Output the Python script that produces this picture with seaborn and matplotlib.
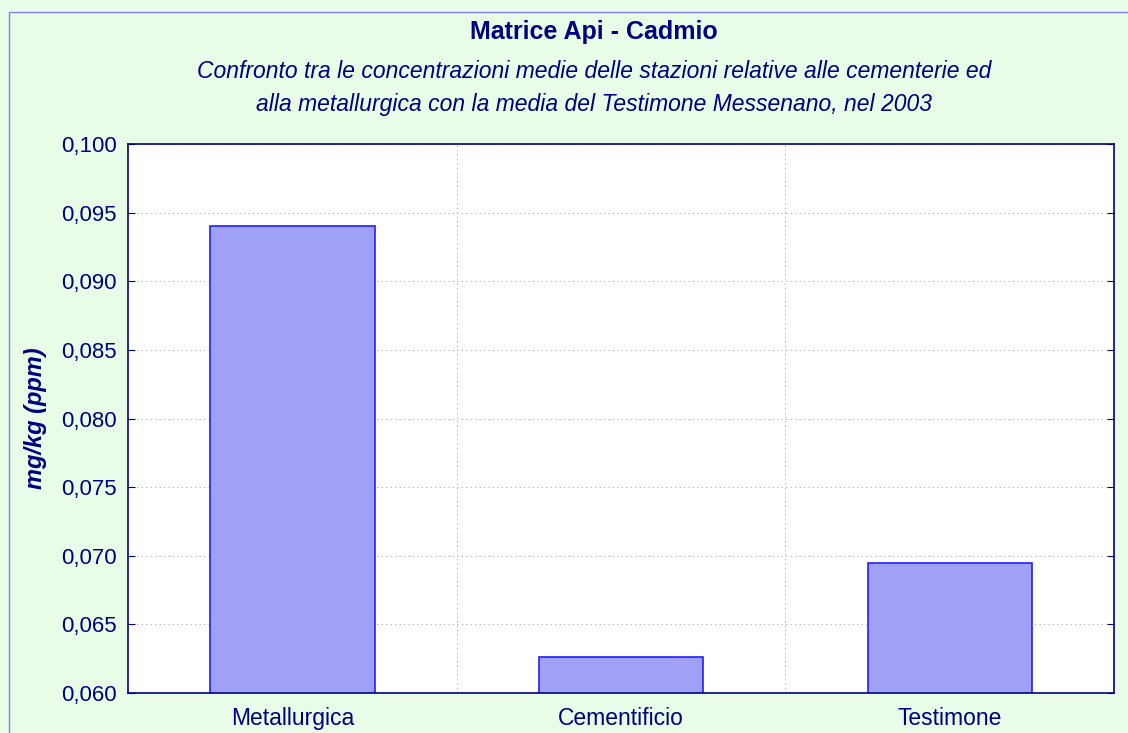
import matplotlib
matplotlib.use("Agg")
import matplotlib.pyplot as plt
import matplotlib.patches as mpatches
from matplotlib.ticker import MultipleLocator, FuncFormatter
import seaborn as sns
import pandas as pd

categories = ["Metallurgica", "Cementificio", "Testimone"]
values = [0.0940, 0.0626, 0.0695]

sns.set_style("white")
plt.rcParams["font.family"] = ["Liberation Sans", "DejaVu Sans"]

navy = "#000080"
df = pd.DataFrame({"cat": categories, "val": values})

fig = plt.figure(figsize=(11.28, 7.33), dpi=100, facecolor="#E8FCE8")
fig.patches.append(mpatches.Rectangle((9 / 1128, -0.01), 1.2, 1 - 12 / 733 + 0.01,
                                      transform=fig.transFigure, fill=False,
                                      edgecolor="#8080FF", linewidth=1))
ax = fig.add_axes([128 / 1128, 1 - 693 / 733, 986 / 1128, 549 / 733])
ax.set_facecolor("white")

sns.barplot(data=df, x="cat", y="val", ax=ax, width=0.5, color="#A0A0F6",
            edgecolor="#2020FF", linewidth=1.2, saturation=1)

ax.set_ylim(0.060, 0.100)
ax.set_xlim(-0.5, 2.5)
ax.yaxis.set_major_locator(MultipleLocator(0.005))
ax.yaxis.set_major_formatter(FuncFormatter(lambda v, p: f"{v:.3f}".replace(".", ",")))
ax.set_xticks([0.5, 1.5], minor=True)
ax.grid(True, axis="y", which="major", color="#B0B0B0", linestyle=(0, (1, 3)), linewidth=0.8)
ax.grid(True, axis="x", which="minor", color="#B0B0B0", linestyle=(0, (1, 3)), linewidth=0.8)
ax.set_axisbelow(True)

for s in ax.spines.values():
    s.set_color(navy)
    s.set_linewidth(1.2)
ax.tick_params(axis="y", which="major", direction="in", length=5, color=navy,
               labelcolor=navy, labelsize=16, right=True, left=True, pad=8)
ax.tick_params(axis="x", which="both", length=0, labelcolor=navy, labelsize=16.5, pad=10)

ax.set_xlabel("")
ax.set_ylabel("mg/kg (ppm)", color=navy, fontsize=17, fontweight="bold",
              fontstyle="italic", labelpad=10)

cx = 594 / 1128
fig.text(cx, 1 - 32 / 733, "Matrice Api - Cadmio", ha="center", va="center",
         color=navy, fontsize=18, fontweight="bold")
fig.text(cx, 1 - 72 / 733, "Confronto tra le concentrazioni medie delle stazioni relative alle cementerie ed",
         ha="center", va="center", color=navy, fontsize=16.5, fontstyle="italic")
fig.text(cx, 1 - 104 / 733, "alla metallurgica con la media del Testimone Messenano, nel 2003",
         ha="center", va="center", color=navy, fontsize=16.5, fontstyle="italic")

fig.savefig("out.png", dpi=100, facecolor=fig.get_facecolor())
